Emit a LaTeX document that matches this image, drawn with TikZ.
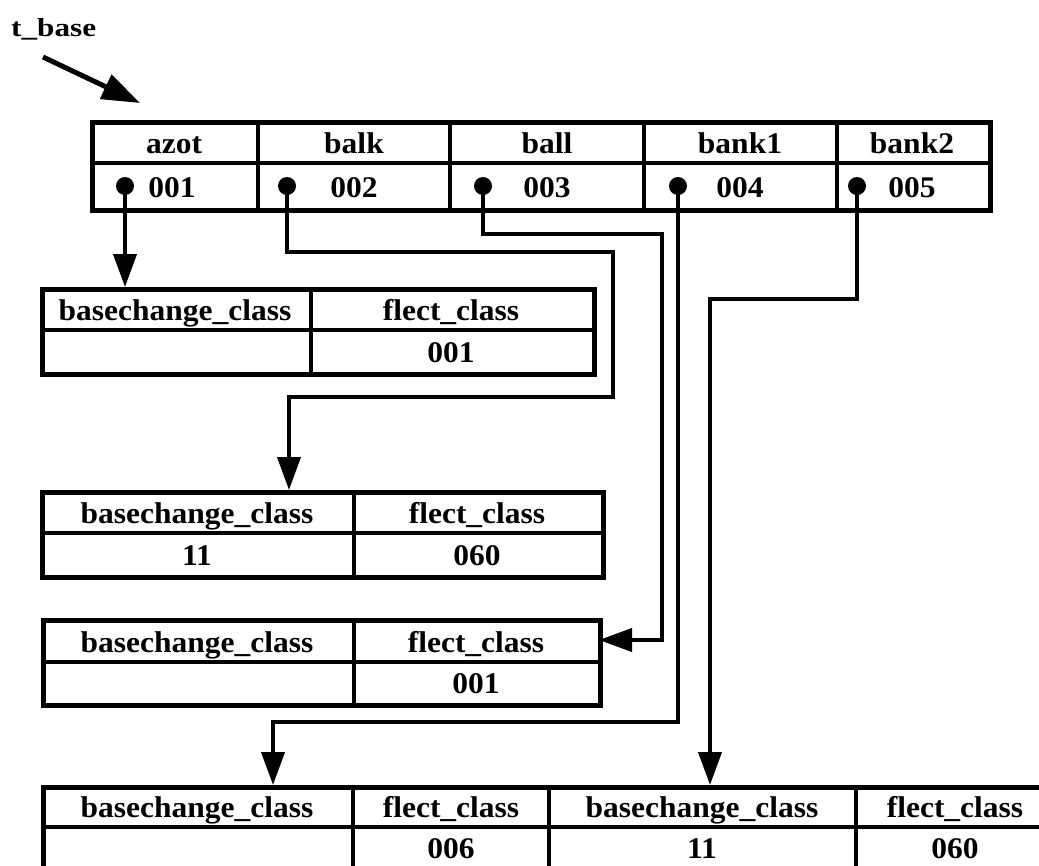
\documentclass[tikz,border=0pt]{standalone}
\usepackage{fontspec}
\setmainfont{Liberation Serif}
\newfontfamily\tabfont[FakeStretch=1.05]{Liberation Serif}
\newfontfamily\tbfont[FakeStretch=1.2]{Liberation Serif}
\usetikzlibrary{arrows.meta}
\begin{document}
\begin{tikzpicture}[x=1pt,y=-1pt,
  tab/.style={draw, line width=4.5pt, inner sep=0pt, anchor=north west},
  cell/.style={font=\tabfont\bfseries\fontsize{30}{30}\selectfont, inner sep=0pt, anchor=base},
  sep/.style={line width=3.5pt},
  link/.style={line width=4pt, line join=miter},
  tip/.style={-{Triangle[length=33pt,width=23pt]}},
  dotn/.style={circle, fill, inner sep=0pt, minimum size=18pt}]
\useasboundingbox (0,0) rectangle (1039,865);
\clip (0,0) rectangle (1039,865);

% ---- t_base label and arrow
\node[font=\tbfont\bfseries\fontsize{26}{26}\selectfont, anchor=base west, inner sep=0pt] (tb) at (11,36) {t\_base};
\coordinate (tbs) at (43,57);
\coordinate (tbe) at (140,103);
\draw[line width=5pt, -{Triangle[length=38pt,width=26pt]}] (tbs) -- (tbe);

% ---- main table
\node[tab, minimum width=898pt, minimum height=88pt] (T1) at (90,120) {};
\draw[sep] (90,163) -- (988,163);
\foreach \x in {258,450,644,837} \draw[sep] (\x,120) -- (\x,208);
\node[cell] (h1) at (174,153) {azot};
\node[cell] (h2) at (354,153) {balk};
\node[cell] (h3) at (547,153) {ball};
\node[cell] (h4) at (740,153) {bank1};
\node[cell] (h5) at (912,153) {bank2};
\node[cell] (v1) at (172,197) {001};
\node[cell] (v2) at (354,197) {002};
\node[cell] (v3) at (547,197) {003};
\node[cell] (v4) at (740,197) {004};
\node[cell] (v5) at (912,197) {005};
\node[dotn] (d1) at (125,186) {};
\node[dotn] (d2) at (287,186) {};
\node[dotn] (d3) at (483,186) {};
\node[dotn] (d4) at (678,186) {};
\node[dotn] (d5) at (857,186) {};

% ---- table 2
\node[tab, minimum width=552pt, minimum height=85pt] (T2) at (40,287) {};
\draw[sep] (40,330) -- (592,330);
\draw[sep] (311,287) -- (311,372);
\node[cell] (t2a) at (175,320) {basechange\_class};
\node[cell] (t2b) at (451,320) {flect\_class};
\node[cell] (t2c) at (451,362) {001};

% ---- table 3
\node[tab, minimum width=561pt, minimum height=85pt] (T3) at (40,490) {};
\draw[sep] (40,533) -- (601,533);
\draw[sep] (354,490) -- (354,575);
\node[cell] (t3a) at (197,523) {basechange\_class};
\node[cell] (t3b) at (477,523) {flect\_class};
\node[cell] (t3c) at (197,565) {11};
\node[cell] (t3d) at (477,565) {060};

% ---- table 4
\node[tab, minimum width=557pt, minimum height=85pt] (T4) at (41,618) {};
\draw[sep] (41,662) -- (598,662);
\draw[sep] (354,618) -- (354,703);
\node[cell] (t4a) at (197,652) {basechange\_class};
\node[cell] (t4b) at (476,652) {flect\_class};
\node[cell] (t4c) at (476,693) {001};

% ---- table 5 (runs past the picture edge)
\node[tab, minimum width=1013pt, minimum height=85pt] (T5) at (41,785) {};
\draw[sep] (41,827) -- (1054,827);
\foreach \x in {353,549,856} \draw[sep] (\x,785) -- (\x,870);
\node[cell] (t5a) at (197,817) {basechange\_class};
\node[cell] (t5b) at (451,817) {flect\_class};
\node[cell] (t5c) at (702,817) {basechange\_class};
\node[cell] (t5d) at (955,817) {flect\_class};
\node[cell] (t5e) at (451,858) {006};
\node[cell] (t5f) at (702,858) {11};
\node[cell] (t5g) at (955,858) {060};

% ---- connectors
\draw[link,tip] (d1.center) -- (d1.center |- T2.north);

\coordinate (b2a) at (613,252);
\coordinate (b2b) at (289,397);
\draw[link,tip] (d2.center) |- (b2a) |- (b2b) -- (b2b |- T3.north);

\coordinate (b3a) at (662,234);
\coordinate (b3t) at (599,640);
\draw[link,tip] (d3.center) |- (b3a) |- (b3t);

\coordinate (b4a) at (273,722);
\draw[link,tip] (d4.center) |- (b4a) -- (b4a |- T5.north);

\coordinate (b5a) at (710,299);
\draw[link,tip] (d5.center) |- (b5a) -- (b5a |- T5.north);
\end{tikzpicture}
\end{document}
